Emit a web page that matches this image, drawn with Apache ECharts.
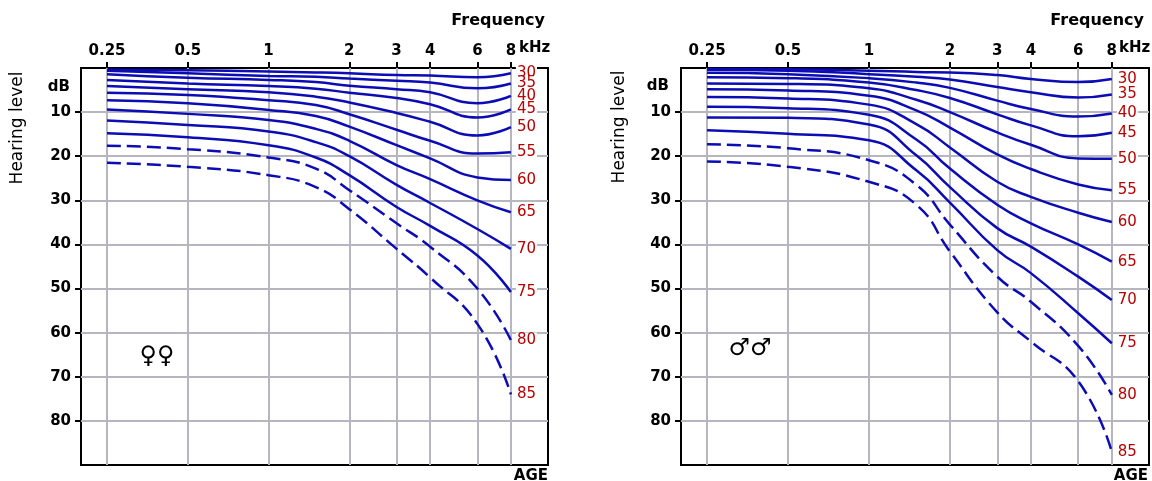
<!DOCTYPE html>
<html>
<head>
<meta charset="utf-8">
<script src="https://cdn.jsdelivr.net/npm/echarts@6/dist/echarts.min.js"></script>
<style>
html,body{margin:0;padding:0;background:#fff;}
#chart{width:1152px;height:481px;}
</style>
</head>
<body>
<div id="chart"></div>
<script>
// Frequencies (kHz) at which the curves were read
const freqs = [0.25, 0.5, 1, 1.5, 2, 3, 4, 6, 8];
// Tick labels
const freqTicks = [0.25, 0.5, 1, 2, 3, 4, 6, 8];
const dbTicks = [10, 20, 30, 40, 50, 60, 70, 80];
// Ages (series names)
const ages = ['30', '35', '40', '45', '50', '55', '60', '65', '70', '75', '80', '85'];
const dashedAges = ['80', '85'];

// Female hearing level (dB) per age, at freqs
const female30 = [0.4, 0.5, 0.8, 1.0, 1.2, 1.6, 1.7, 2.1, 1.2];
const female35 = [0.6, 1.2, 1.8, 2.0, 2.4, 2.9, 3.3, 4.6, 3.5];
const female40 = [1.4, 2.2, 2.7, 3.2, 4.0, 4.8, 5.5, 8.0, 6.3];
const female45 = [2.7, 3.5, 4.1, 4.7, 5.6, 6.8, 8.2, 11.2, 9.4];
const female50 = [4.1, 4.8, 5.5, 6.5, 7.8, 10.2, 12.2, 15.3, 13.4];
const female55 = [5.6, 6.1, 7.3, 8.4, 10.5, 14.0, 16.5, 19.4, 19.1];
const female60 = [7.3, 8.0, 9.5, 10.9, 13.3, 17.5, 20.5, 24.8, 25.4];
const female65 = [9.4, 10.4, 11.8, 13.8, 16.5, 22.0, 25.2, 30.0, 32.7];
const female70 = [11.9, 12.9, 14.4, 16.8, 20.0, 26.5, 30.6, 36.5, 41.0];
const female75 = [14.8, 15.7, 17.5, 20.3, 24.3, 31.5, 35.8, 42.5, 50.8];
const female80 = [17.6, 18.4, 20.3, 22.8, 27.7, 35.2, 40.5, 50.0, 61.7];
const female85 = [21.5, 22.4, 24.3, 27.0, 32.0, 41.0, 47.5, 58.0, 74.0];

// Male hearing level (dB) per age, at freqs
const male30 = [0.2, 0.3, 0.6, 0.9, 1.0, 1.6, 2.5, 3.2, 2.5];
const male35 = [0.4, 0.6, 1.4, 2.0, 2.6, 4.3, 5.5, 6.7, 6.0];
const male40 = [1.1, 1.4, 2.3, 3.3, 4.5, 7.4, 9.3, 11.0, 10.3];
const male45 = [2.1, 2.3, 3.3, 5.0, 6.8, 10.5, 13.0, 15.5, 14.7];
const male50 = [3.5, 3.6, 4.6, 7.2, 10.0, 14.6, 17.4, 20.5, 20.6];
const male55 = [4.8, 5.1, 6.3, 9.6, 13.5, 19.6, 22.9, 26.4, 27.7];
const male60 = [6.6, 6.9, 8.3, 12.7, 18.0, 25.8, 29.2, 32.8, 34.9];
const male65 = [8.8, 9.1, 10.6, 16.2, 22.8, 31.0, 35.2, 40.0, 43.9];
const male70 = [11.2, 11.3, 12.8, 19.8, 27.0, 36.3, 40.5, 47.3, 52.6];
const male75 = [14.1, 14.9, 16.4, 23.2, 30.5, 41.3, 46.5, 55.6, 62.4];
const male80 = [17.3, 18.2, 20.9, 26.5, 35.5, 47.3, 53.0, 63.0, 74.1];
const male85 = [21.2, 22.4, 25.8, 31.0, 41.6, 55.4, 62.0, 71.0, 87.0];

const femaleCurves = [female30, female35, female40, female45, female50, female55, female60, female65, female70, female75, female80, female85];
const maleCurves = [male30, male35, male40, male45, male50, male55, male60, male65, male70, male75, male80, male85];

const FONT = '"DejaVu Sans", Verdana, sans-serif';
const LINE_BLUE = '#0c0cb4';
const AGE_RED = '#b80000';
const GRID_GRAY = '#b6b6c0';

function axesFor(gi) {
  const x = {
    type: 'log', logBase: 2, gridIndex: gi, min: 0.2, max: 11, position: 'top',
    axisLine: { show: false },
    axisTick: { show: true, customValues: freqTicks, length: 6, lineStyle: { color: '#000', width: 2 } },
    axisLabel: { customValues: freqTicks, formatter: v => String(+(+v).toPrecision(3)), color: '#000', fontFamily: FONT, fontWeight: 'bold', fontSize: 15, margin: 9 },
    splitLine: { show: true, lineStyle: { color: GRID_GRAY, width: 2 } },
    minorTick: { show: false }, minorSplitLine: { show: false }
  };
  const y = {
    type: 'value', gridIndex: gi, inverse: true, min: 0, max: 90, interval: 10,
    axisLine: { show: false },
    axisTick: { show: true, customValues: dbTicks, length: 6, lineStyle: { color: '#000', width: 2 } },
    axisLabel: { customValues: dbTicks, color: '#000', fontFamily: FONT, fontWeight: 'bold', fontSize: 15, margin: 10 },
    splitLine: { show: true, lineStyle: { color: GRID_GRAY, width: 2 } }
  };
  return { x, y };
}

function seriesFor(gi, curves) {
  return curves.map((vals, i) => ({
    type: 'line', name: ages[i], xAxisIndex: gi, yAxisIndex: gi,
    data: freqs.map((f, j) => [f, vals[j]]),
    smooth: 0.5, showSymbol: false, symbol: 'none', silent: true,
    lineStyle: { color: LINE_BLUE, width: 2.5, type: dashedAges.includes(ages[i]) ? [14, 6] : 'solid' },
    endLabel: { show: true, formatter: p => p.seriesName, color: AGE_RED, fontFamily: FONT, fontSize: 15, distance: 5, backgroundColor: '#fff', padding: [0, 1] },
    z: 3
  }));
}

const a0 = axesFor(0), a1 = axesFor(1);

function txt(x, y, text, opts) {
  return Object.assign({ type: 'text', x: x, y: y, silent: true, z: 10,
    style: Object.assign({ text: text, fill: '#000', textAlign: 'left', textVerticalAlign: 'middle', font: '15px ' + FONT }, opts.style || {}) }, opts.el || {});
}

const option = {
  animation: false,
  backgroundColor: '#fff',
  grid: [
    { left: 81, top: 68, width: 467, height: 397, show: true, borderColor: '#000', borderWidth: 2, backgroundColor: 'transparent' },
    { left: 681, top: 68, width: 468, height: 397, show: true, borderColor: '#000', borderWidth: 2, backgroundColor: 'transparent' }
  ],
  xAxis: [a0.x, a1.x],
  yAxis: [a0.y, a1.y],
  series: seriesFor(0, femaleCurves).concat(seriesFor(1, maleCurves)),
  graphic: [
    txt(545, 21, 'Frequency', { style: { textAlign: 'right', font: 'bold 16px ' + FONT } }),
    txt(1144, 21, 'Frequency', { style: { textAlign: 'right', font: 'bold 16px ' + FONT } }),
    txt(519, 48, 'kHz', { style: { font: 'bold 15px ' + FONT } }),
    txt(1119, 48, 'kHz', { style: { font: 'bold 15px ' + FONT } }),
    txt(70, 87, 'dB', { style: { textAlign: 'right', font: 'bold 15px ' + FONT } }),
    txt(669, 86, 'dB', { style: { textAlign: 'right', font: 'bold 15px ' + FONT } }),
    txt(18, 128, 'Hearing level', { style: { textAlign: 'center', font: '17px ' + FONT }, el: { rotation: Math.PI / 2 } }),
    txt(620, 127, 'Hearing level', { style: { textAlign: 'center', font: '17px ' + FONT }, el: { rotation: Math.PI / 2 } }),
    txt(548, 476, 'AGE', { style: { textAlign: 'right', font: 'bold 15px ' + FONT } }),
    txt(1148, 476, 'AGE', { style: { textAlign: 'right', font: 'bold 15px ' + FONT } }),
    txt(157, 357, '♀♀', { style: { textAlign: 'center', font: '24px ' + FONT } }),
    txt(750, 349, '♂♂', { style: { textAlign: 'center', font: '24px ' + FONT } })
  ]
};

const chart = echarts.init(document.getElementById('chart'), null, { renderer: 'canvas' });
chart.setOption(option);
</script>
</body>
</html>
